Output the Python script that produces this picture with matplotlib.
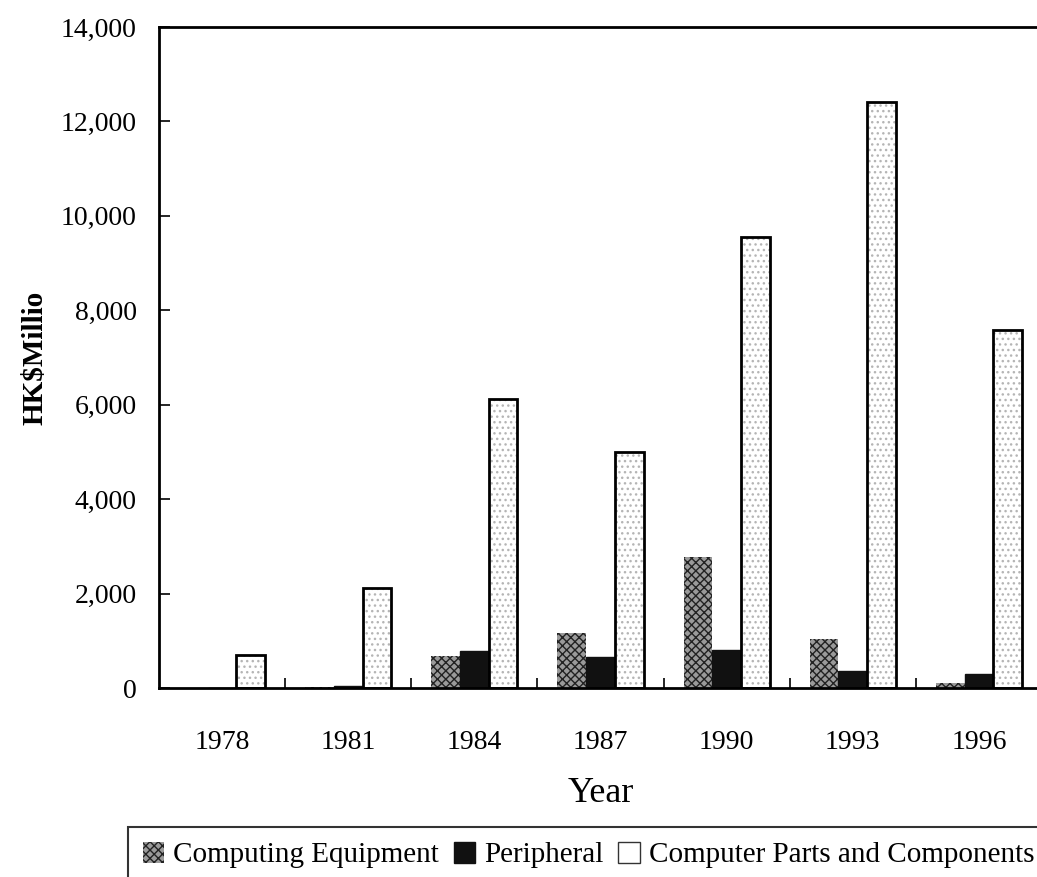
import numpy as np
import matplotlib
matplotlib.use("Agg")
import matplotlib.pyplot as plt
from matplotlib.patches import Patch
from matplotlib.ticker import FuncFormatter, MultipleLocator, FixedLocator

plt.rcParams['font.family'] = ['Liberation Serif', 'DejaVu Serif']

# data (HK$ million)
years = ["1978", "1981", "1984", "1987", "1990", "1993", "1996"]
computing_equipment = [0, 30, 680, 1160, 2780, 1040, 110]
peripheral = [0, 40, 780, 660, 800, 360, 300]
parts_components = [700, 2120, 6120, 5000, 9560, 12420, 7590]

fig = plt.figure(figsize=(10.37, 8.77), dpi=100)
ax = fig.add_axes([159 / 1037, 1 - 688 / 877, 883 / 1037, 661 / 877])

x = np.arange(len(years))
w = 0.228

# Computing Equipment: dark cross-hatched texture
ax.bar(x - w, computing_equipment, w, color="#9a9a9a", edgecolor="#222222",
       hatch="xxxx", linewidth=0)
# Peripheral: solid black
ax.bar(x, peripheral, w, color="#111111", edgecolor="#111111", linewidth=1)
# Computer Parts and Components: light dotted fill with black outline
ax.bar(x + w, parts_components, w, color="white", edgecolor="#b5b5b5",
       hatch="...", linewidth=0)
ax.bar(x + w, parts_components, w, fill=False, edgecolor="black", linewidth=2)

ax.set_xlim(-0.5, len(years) - 0.5)
ax.set_ylim(0, 14000)

ax.yaxis.set_major_locator(MultipleLocator(2000))
ax.yaxis.set_major_formatter(FuncFormatter(lambda v, p: f"{int(v):,}"))
ax.tick_params(axis="y", direction="in", length=8, width=1.2, labelsize=20, pad=16)

ax.set_xticks(x)
ax.set_xticklabels(years)
ax.xaxis.set_minor_locator(FixedLocator(x[:-1] + 0.5))
ax.tick_params(axis="x", which="major", length=0, labelsize=20, pad=30)
ax.tick_params(axis="x", which="minor", direction="in", length=7, width=1.2)

for side in ["left", "bottom", "top"]:
    ax.spines[side].set_linewidth(2)
ax.spines["right"].set_visible(False)

ax.set_ylabel("HK\\$Millio", fontsize=21, fontweight="bold", labelpad=9)
ax.set_xlabel("Year", fontsize=26, labelpad=16)

handles = [
    Patch(facecolor="#9a9a9a", edgecolor="#222222", hatch="xxxx", linewidth=0),
    Patch(facecolor="#111111", edgecolor="#111111"),
    Patch(facecolor="white", edgecolor="#333333", linewidth=1),
]
labels = ["Computing Equipment", "Peripheral", "Computer Parts and Components"]
leg = fig.legend(handles, labels, loc="upper left",
                 bbox_to_anchor=(128 / 1037, 1 - 827 / 877), ncol=3,
                 fontsize=21, frameon=True, fancybox=False, edgecolor="black",
                 handlelength=0.75, handleheight=0.75, handletextpad=0.3,
                 columnspacing=0.5, borderpad=0.5, borderaxespad=0)
leg.get_frame().set_linewidth(1.5)

fig.savefig("out.png", dpi=100)
